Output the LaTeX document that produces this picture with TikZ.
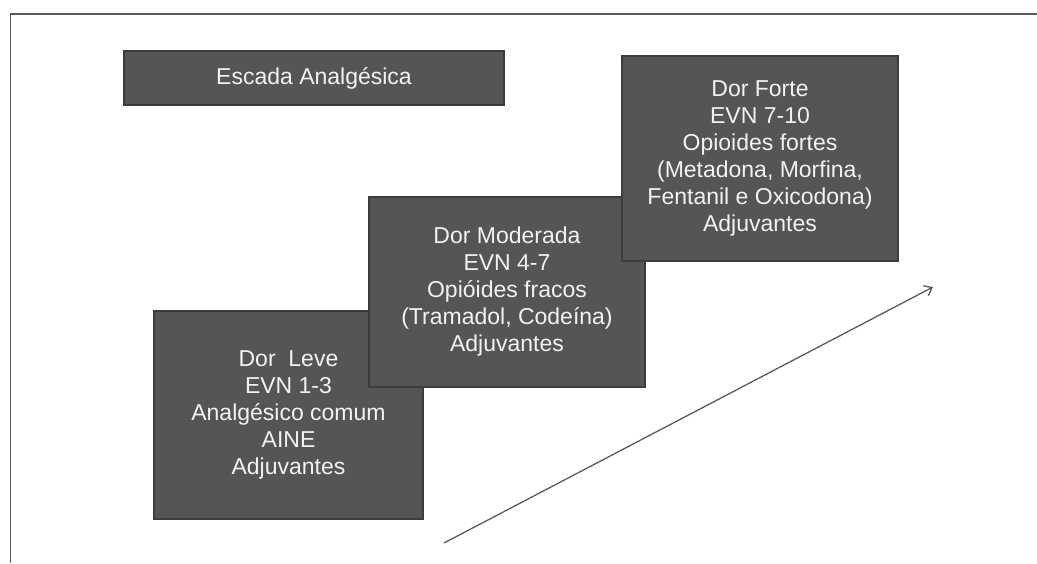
\documentclass[tikz,border=0pt]{standalone}
\usepackage{fontspec}
\setmainfont{Liberation Sans}
\usetikzlibrary{arrows.meta}
\definecolor{boxfill}{HTML}{555555}
\definecolor{boxline}{HTML}{3C3C3C}
\definecolor{boxtext}{HTML}{F2F2F2}
\definecolor{framecol}{HTML}{5A5A5A}
\definecolor{arrowcol}{HTML}{5A5A5A}
\begin{document}
\begin{tikzpicture}[x=1pt,y=-1pt,
  stepbox/.style={draw=boxline, line width=1.2pt, fill=boxfill, text=boxtext,
    align=center, inner sep=0pt, font=\fontsize{23}{27}\selectfont},
  frameline/.style={draw=framecol, line width=1.3pt},
  risearrow/.style={draw=arrowcol, line width=1.3pt, -{Straight Barb[length=7pt,width=11pt,line width=1.3pt]}}
]
\useasboundingbox (0,0) rectangle (1037,563);
\draw[frameline] (10.5,563) -- (10.5,14) -- (1037,14);

\node[stepbox, minimum width=380pt, minimum height=54pt] (title) at (314,78) {Escada Analgésica};

\node[stepbox, minimum width=269pt, minimum height=208pt] (leve) at (288.5,415)
  {Dor\ \ Leve\\EVN 1-3\\Analgésico comum\\AINE\\Adjuvantes};
\node[stepbox, minimum width=276pt, minimum height=190pt] (moderada) at (507,292)
  {Dor Moderada\\EVN 4-7\\Opióides fracos\\(Tramadol, Codeína)\\Adjuvantes};
\node[stepbox, minimum width=276pt, minimum height=205pt] (forte) at (760,158.5)
  {Dor Forte\\EVN 7-10\\Opioides fortes\\(Metadona, Morfina,\\Fentanil e Oxicodona)\\Adjuvantes};

\coordinate (arrowstart) at (444,543);
\coordinate (arrowend) at (933,287);
\draw[risearrow] (arrowstart) -- (arrowend);
\end{tikzpicture}
\end{document}
